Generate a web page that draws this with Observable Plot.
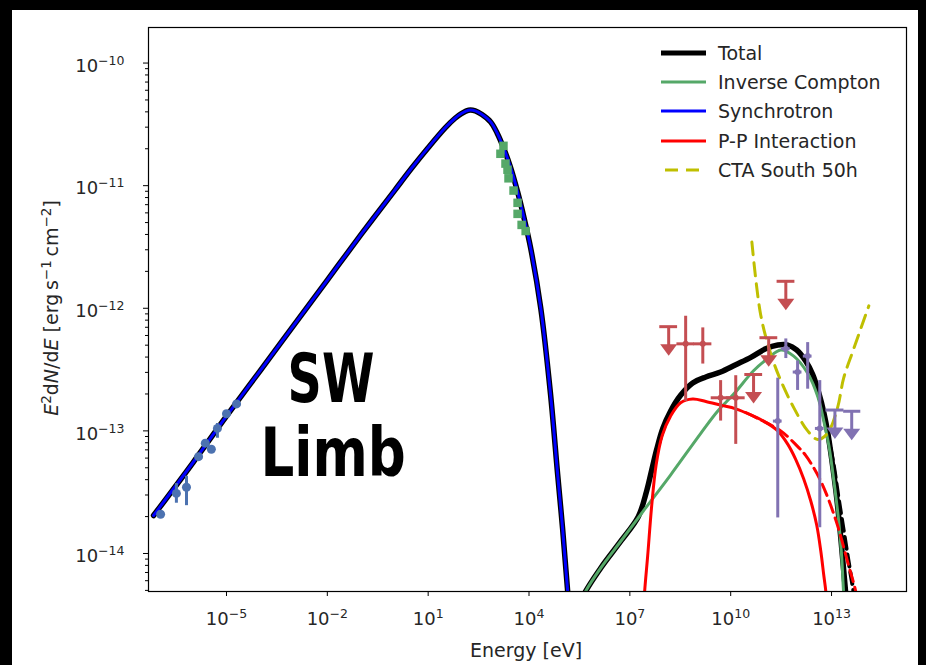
<!DOCTYPE html>
<html>
<head>
<meta charset="utf-8">
<script src="https://cdn.jsdelivr.net/npm/d3@7"></script>
<script src="https://cdn.jsdelivr.net/npm/@observablehq/plot@0.6"></script>
<style>
html, body { margin: 0; padding: 0; background: #000; }
#page { position: absolute; left: 0; top: 0; width: 926px; height: 665px; overflow: hidden; background: #000; }
#white { position: absolute; left: 12px; top: 10px; width: 906px; height: 655px; background: #fff; }
#chart { position: absolute; left: 0; top: 0; }
#legend { position: absolute; left: 0; top: 0; font-family: "DejaVu Sans", sans-serif; font-size: 19px; color: #262626; }
.lrow { position: absolute; left: 660px; height: 24px; }
.lrow svg { position: absolute; left: 0; top: 0; }
.lrow span { position: absolute; left: 58px; top: 0; line-height: 24px; white-space: nowrap; }
</style>
</head>
<body>
<div id="page">
  <div id="white"></div>
  <div id="chart"></div>
  <div id="legend"></div>
</div>
<script>
// ---------------- data (log10 values) ----------------
// Synchrotron model
const syncLogE = [-7.17, -6.0, -5.0, -4.0, -3.0, -2.0, -1.0, 0.0, 0.5, 1.0, 1.5, 1.8, 2.0, 2.2, 2.4, 2.6, 2.86, 3.05, 3.24, 3.45, 3.66, 3.85, 4.05, 4.35, 4.64, 4.85, 5.0, 5.15, 5.3];
const syncLogF = [-13.69, -13.26, -12.88, -12.51, -12.14, -11.77, -11.40, -11.04, -10.86, -10.69, -10.53, -10.45, -10.41, -10.385, -10.39, -10.42, -10.48, -10.57, -10.69, -10.85, -11.05, -11.26, -11.51, -12.0, -12.7, -13.35, -13.8, -14.31, -14.85];

// Inverse Compton model
const icLogE = [5.5, 5.625, 6.13, 6.73, 7.41, 8.21, 9.11, 9.61, 10.09, 10.68, 11.10, 11.49, 11.875, 12.29, 12.59, 12.77, 12.92, 13.07, 13.21, 13.30, 13.36, 13.42];
const icLogF = [-14.45, -14.34, -14.12, -13.90, -13.65, -13.36, -13.02, -12.84, -12.70, -12.51, -12.41, -12.34, -12.39, -12.53, -12.72, -12.92, -13.12, -13.41, -13.73, -14.02, -14.32, -14.50];

// P-P interaction model (solid)
const ppLogE = [7.40, 7.44, 7.53, 7.65, 7.78, 7.96, 8.21, 8.51, 8.87, 9.26, 9.70, 10.15, 10.60, 11.04, 11.40, 11.70, 11.93, 12.17, 12.38, 12.56, 12.68, 12.77, 12.83, 12.86];
const ppLogF = [-14.5, -14.31, -14.02, -13.61, -13.28, -13.04, -12.88, -12.77, -12.74, -12.76, -12.79, -12.82, -12.87, -12.93, -13.0, -13.11, -13.23, -13.39, -13.57, -13.77, -13.98, -14.18, -14.31, -14.46];

// P-P interaction model (dashed)
const ppDashLogE = [10.45, 10.89, 11.49, 11.93, 12.23, 12.68, 13.13, 13.51, 13.72, 13.87];
const ppDashLogF = [-12.85, -12.91, -13.0, -13.11, -13.20, -13.41, -13.73, -14.10, -14.31, -14.54];

// Total (high-energy part, solid)
const totLogE = [5.5, 5.625, 6.13, 6.73, 7.25, 7.50, 7.65, 7.80, 7.98, 8.21, 8.51, 8.87, 9.26, 9.70, 10.15, 10.60, 11.04, 11.40, 11.70, 11.96, 12.23, 12.44, 12.62, 12.77, 12.89, 13.01, 13.13, 13.24, 13.33, 13.42, 13.48];
const totLogF = [-14.45, -14.34, -14.12, -13.90, -13.70, -13.49, -13.32, -13.15, -12.98, -12.84, -12.71, -12.61, -12.56, -12.52, -12.46, -12.40, -12.33, -12.30, -12.30, -12.34, -12.43, -12.54, -12.69, -12.85, -13.02, -13.24, -13.49, -13.77, -14.04, -14.32, -14.50];

// Total (dashed variant)
const totDashLogE = [12.77, 12.92, 13.07, 13.21, 13.36, 13.48, 13.60, 13.72];
const totDashLogF = [-12.85, -13.07, -13.29, -13.55, -13.81, -14.02, -14.22, -14.42];

// CTA South 50h sensitivity
const ctaLogE = [10.63, 10.89, 11.19, 11.49, 11.875, 12.29, 12.59, 12.88, 13.18, 13.36, 13.66, 14.11];
const ctaLogF = [-11.46, -12.05, -12.37, -12.59, -12.81, -13.0, -13.07, -13.02, -12.81, -12.57, -12.33, -11.98];

// Radio points
const radioLogE = [-6.96, -6.49, -6.19, -5.83, -5.63, -5.45, -5.27, -5.0, -4.70];
const radioLogF = [-13.68, -13.51, -13.46, -13.21, -13.10, -13.15, -12.98, -12.86, -12.78];
const radioLogFLo = [-13.70, -13.59, -13.61, -13.23, -13.12, -13.17, -13.06, -12.88, -12.80];
const radioLogFHi = [-13.66, -13.43, -13.37, -13.19, -13.08, -13.13, -12.94, -12.84, -12.76];

// X-ray points
const xrayLogE = [3.24, 3.15, 3.30, 3.36, 3.39, 3.54, 3.66, 3.66, 3.78, 3.90];
const xrayLogF = [-10.675, -10.74, -10.82, -10.87, -10.94, -11.04, -11.14, -11.23, -11.32, -11.37];

// Gamma-ray points (red) with errors
const redLogE = [8.66, 9.17, 9.70, 10.15];
const redLogELo = [8.40, 8.90, 9.42, 9.87];
const redLogEHi = [8.92, 9.44, 9.98, 10.43];
const redLogF = [-12.29, -12.29, -12.73, -12.73];
const redLogFLo = [-12.76, -12.455, -12.92, -13.11];
const redLogFHi = [-12.065, -12.16, -12.59, -12.55];

// Gamma-ray upper limits (red)
const redUlLogE = [8.155, 10.68, 11.13, 11.64];
const redUlLogELo = [7.89, 10.42, 10.87, 11.38];
const redUlLogEHi = [8.42, 10.95, 11.40, 11.91];
const redUlLogF = [-12.15, -12.54, -12.24, -11.78];

// TeV points (purple) with errors
const purpLogE = [11.40, 11.64, 11.99, 12.29, 12.65];
const purpLogELo = [11.27, 11.51, 11.86, 12.16, 12.52];
const purpLogEHi = [11.53, 11.77, 12.12, 12.42, 12.78];
const purpLogF = [-12.92, -12.33, -12.52, -12.39, -12.98];
const purpLogFLo = [-13.71, -12.41, -12.67, -12.66, -13.79];
const purpLogFHi = [-12.57, -12.25, -12.43, -12.28, -12.59];

// TeV upper limits (purple)
const purpUlLogE = [13.10, 13.60];
const purpUlLogELo = [12.83, 13.36];
const purpUlLogEHi = [13.37, 13.87];
const purpUlLogF = [-12.83, -12.84];

// Axis ticks
const xTicks = [1e-5, 1e-2, 1e1, 1e4, 1e7, 1e10, 1e13];
const xTickLabels = ["10^\u22125", "10^\u22122", "10^1", "10^4", "10^7", "10^10", "10^13"];
const yTicks = [1e-14, 1e-13, 1e-12, 1e-11, 1e-10];
const yTickLabels = ["10^\u221214", "10^\u221213", "10^\u221212", "10^\u221211", "10^\u221210"];

const legendLabels = ["Total", "Inverse Compton", "Synchrotron", "P-P Interaction", "CTA South 50h"];

// ---------------- build tables ----------------
const p10 = v => Math.pow(10, v);
const pts = (le, lf) => le.map((e, i) => ({E: p10(e), F: p10(lf[i])}));
const sync = pts(syncLogE, syncLogF);
const ic = pts(icLogE, icLogF);
const pp = pts(ppLogE, ppLogF);
const ppDash = pts(ppDashLogE, ppDashLogF);
const tot = pts(totLogE, totLogF);
const totDash = pts(totDashLogE, totDashLogF);
const cta = pts(ctaLogE, ctaLogF);
const radio = radioLogE.map((e, i) => ({E: p10(e), F: p10(radioLogF[i]), lo: p10(radioLogFLo[i]), hi: p10(radioLogFHi[i])}));
const xray = pts(xrayLogE, xrayLogF);
const errPts = (le, lel, leh, lf, lfl, lfh) => le.map((e, i) => ({
  E: p10(e), El: p10(lel[i]), Eh: p10(leh[i]), F: p10(lf[i]), lo: p10(lfl[i]), hi: p10(lfh[i])
}));
const red = errPts(redLogE, redLogELo, redLogEHi, redLogF, redLogFLo, redLogFHi);
const purp = errPts(purpLogE, purpLogELo, purpLogEHi, purpLogF, purpLogFLo, purpLogFHi);
const ulArrow = 0.19; // arrow length in decades
const ulPts = (le, lel, leh, lf) => le.map((e, i) => ({
  E: p10(e), El: p10(lel[i]), Eh: p10(leh[i]), F: p10(lf[i]), tip: p10(lf[i] - ulArrow)
}));
const redUl = ulPts(redUlLogE, redUlLogELo, redUlLogEHi, redUlLogF);
const purpUl = ulPts(purpUlLogE, purpUlLogELo, purpUlLogEHi, purpUlLogF);

// downward triangle symbol
const triDown = {
  draw(ctx, size) {
    const r = Math.sqrt(size / Math.PI);
    const h = r * 1.35;
    ctx.moveTo(-r, -h / 2);
    ctx.lineTo(r, -h / 2);
    ctx.lineTo(0, h / 2);
    ctx.closePath();
  }
};

const xDomain = [p10(-7.32), p10(15.23)];
const yDomain = [p10(-14.31), p10(-9.71)];
const yMinor = d3.scaleLog().domain(yDomain).ticks().filter(t => !yTicks.some(m => Math.abs(m - t) / t < 1e-6));

const cRadio = "#4c72b0", cGreen = "#55a868", cRed = "#c44e52", cPurp = "#8172b2";

const errMarks = (data, color, sw) => [
  Plot.ruleX(data, {x: "E", y1: "lo", y2: "hi", stroke: color, strokeWidth: sw}),
  Plot.ruleY(data, {y: "F", x1: "El", x2: "Eh", stroke: color, strokeWidth: sw}),
  Plot.dot(data, {x: "E", y: "F", r: 3, fill: color})
];
const ulMarks = (data, color, sw) => [
  Plot.ruleY(data, {y: "F", x1: "El", x2: "Eh", stroke: color, strokeWidth: sw}),
  Plot.ruleX(data, {x: "E", y1: "F", y2: "tip", stroke: color, strokeWidth: sw}),
  Plot.dot(data, {x: "E", y: "tip", symbol: triDown, r: 8.5, fill: color, stroke: "none"})
];

const svg = Plot.plot({
  width: 926,
  height: 665,
  marginLeft: 148,
  marginRight: 20,
  marginTop: 27,
  marginBottom: 74,
  style: {background: "transparent", fontFamily: "DejaVu Sans, sans-serif", fontSize: "18px", color: "#262626"},
  x: {type: "log", domain: xDomain},
  y: {type: "log", domain: yDomain},
  marks: [
    Plot.axisY({ticks: yMinor, tickSize: 3, tickFormat: () => "", label: null, stroke: "#000"}),
    Plot.axisY({ticks: yTicks, tickSize: 5, tickPadding: 19, label: null, fontSize: 18,
      tickFormat: d => yTickLabels[yTicks.indexOf(d)], stroke: "#000"}),
    Plot.axisX({ticks: xTicks, tickSize: 5, tickPadding: 16, label: null, fontSize: 18,
      tickFormat: d => xTickLabels[xTicks.indexOf(d)], stroke: "#000"}),
    // models
    Plot.line(sync, {x: "E", y: "F", stroke: "#000", strokeWidth: 5.5, curve: "catmull-rom", clip: true}),
    Plot.line(tot, {x: "E", y: "F", stroke: "#000", strokeWidth: 5.5, curve: "catmull-rom", clip: true}),
    Plot.line(totDash, {x: "E", y: "F", stroke: "#000", strokeWidth: 4, strokeDasharray: "12,6", curve: "catmull-rom", clip: true}),
    Plot.line(ic, {x: "E", y: "F", stroke: cGreen, strokeWidth: 3, curve: "catmull-rom", clip: true}),
    Plot.line(sync, {x: "E", y: "F", stroke: "#0000ff", strokeWidth: 3, curve: "catmull-rom", clip: true}),
    Plot.line(pp, {x: "E", y: "F", stroke: "#ff0000", strokeWidth: 3, curve: "catmull-rom", clip: true}),
    Plot.line(ppDash, {x: "E", y: "F", stroke: "#ff0000", strokeWidth: 3, strokeDasharray: "12,6", curve: "catmull-rom", clip: true}),
    Plot.line(cta, {x: "E", y: "F", stroke: "#bfbf00", strokeWidth: 3, strokeDasharray: "13,8", curve: "catmull-rom", clip: true}),
    // data
    Plot.ruleX(radio, {x: "E", y1: "lo", y2: "hi", stroke: cRadio, strokeWidth: 3}),
    Plot.dot(radio, {x: "E", y: "F", r: 4.5, fill: cRadio}),
    Plot.dot(xray, {x: "E", y: "F", symbol: "square", r: 4.8, fill: cGreen}),
    ...errMarks(red, cRed, 3),
    ...ulMarks(redUl, cRed, 3),
    ...errMarks(purp, cPurp, 3),
    ...ulMarks(purpUl, cPurp, 3),
    Plot.frame({stroke: "#000", strokeWidth: 1.2})
  ]
});
document.getElementById("chart").appendChild(svg);

const NS = "http://www.w3.org/2000/svg";
function supify(sel, baseDy) {
  svg.querySelectorAll(sel).forEach(t => {
    const s = t.textContent;
    if (!s.includes("^")) return;
    const [b, e] = s.split("^");
    t.textContent = "";
    const a = document.createElementNS(NS, "tspan");
    a.textContent = b;
    if (baseDy) a.setAttribute("dy", baseDy);
    const sp = document.createElementNS(NS, "tspan");
    sp.textContent = e;
    sp.setAttribute("dy", "-7");
    sp.setAttribute("font-size", "12.5");
    t.append(a, sp);
  });
}
supify('g[aria-label="x-axis tick label"] text', 0);
supify('g[aria-label="y-axis tick label"] text', 3);

// axis titles
function addText(x, y, rot, parts) {
  const t = document.createElementNS(NS, "text");
  t.setAttribute("transform", `translate(${x},${y})` + (rot ? ` rotate(${rot})` : ""));
  t.setAttribute("text-anchor", "middle");
  t.setAttribute("font-family", "DejaVu Sans, sans-serif");
  t.setAttribute("font-size", "19");
  t.setAttribute("fill", "#262626");
  let raised = false;
  parts.forEach(p => {
    const ts = document.createElementNS(NS, "tspan");
    ts.textContent = p.t;
    if (p.i) ts.setAttribute("font-style", "italic");
    if (p.s) { ts.setAttribute("font-size", "13.5"); ts.setAttribute("dy", "-7"); raised = true; }
    else if (raised) { ts.setAttribute("dy", "7"); raised = false; }
    t.appendChild(ts);
  });
  svg.appendChild(t);
  return t;
}
addText(58, 308, -90, [
  {t: "E", i: true}, {t: "2", s: true}, {t: "d"}, {t: "N", i: true}, {t: "/d"}, {t: "E", i: true},
  {t: " [erg\u2009s"}, {t: "\u22121", s: true}, {t: "\u2009cm"}, {t: "\u22122", s: true}, {t: "]"}
]);
addText(526, 657, 0, [{t: "Energy [eV]"}]);

// annotation
function addAnno(x, y, sx, str) {
  const t = document.createElementNS(NS, "text");
  t.setAttribute("transform", `translate(${x},${y}) scale(${sx},1)`);
  t.setAttribute("text-anchor", "middle");
  t.setAttribute("font-family", "DejaVu Sans, sans-serif");
  t.setAttribute("font-weight", "bold");
  t.setAttribute("font-size", "68");
  t.setAttribute("fill", "#000");
  t.textContent = str;
  svg.appendChild(t);
}
addAnno(331, 402, 0.7, "SW");
addAnno(333, 476, 0.78, "Limb");

// legend
const legendStyles = [
  {stroke: "#000", w: 5, dash: null},
  {stroke: cGreen, w: 3, dash: null},
  {stroke: "#0000ff", w: 3, dash: null},
  {stroke: "#ff0000", w: 3, dash: null},
  {stroke: "#bfbf00", w: 3, dash: "13,8"}
];
const leg = document.getElementById("legend");
legendLabels.forEach((lab, i) => {
  const row = document.createElement("div");
  row.className = "lrow";
  row.style.top = (40.5 + i * 29.4) + "px";
  const st = legendStyles[i];
  row.innerHTML = `<svg width="50" height="24"><line x1="1" x2="46" y1="12" y2="12" stroke="${st.stroke}" stroke-width="${st.w}" ${st.dash ? `stroke-dasharray="${st.dash}" stroke-dashoffset="-4"` : ""}/></svg><span>${lab}</span>`;
  leg.appendChild(row);
});
</script>
</body>
</html>
